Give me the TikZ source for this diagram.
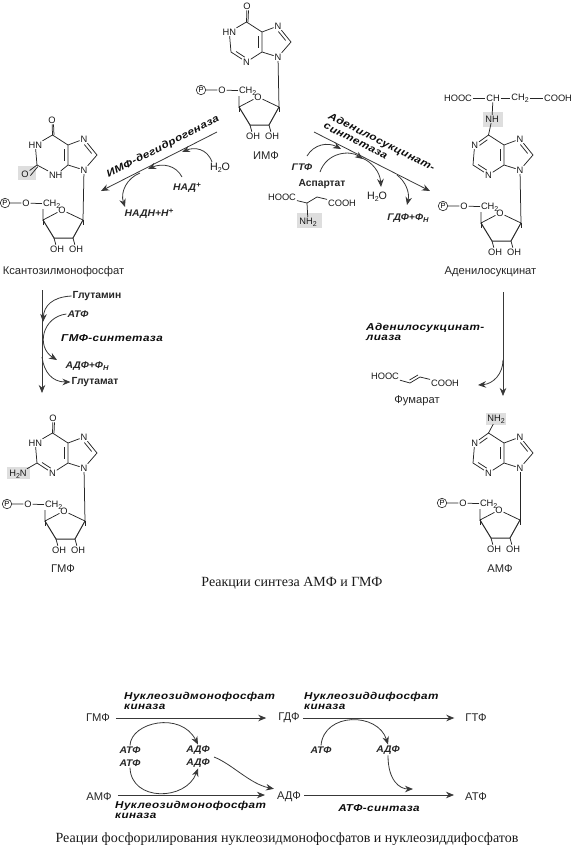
\documentclass[tikz,border=0pt]{standalone}
\usepackage{fontspec}
\setmainfont{Liberation Sans}
\newfontfamily\capfont{Liberation Serif}
\newfontfamily\enzfont[FakeStretch=1.17,LetterSpace=4]{Liberation Sans}
\newfontfamily\rgfont[FakeStretch=1.08]{Liberation Sans}
\usetikzlibrary{arrows.meta, calc}
\newcommand{\dblbond}[2]{\draw[bond] ($(#1)!.22!(#2)!3.2pt!90:(#2)$) -- ($(#2)!.22!(#1)!3.2pt!-90:(#1)$);}
\newcommand{\lowtxt}[1]{\raisebox{-1.8pt}{\fontsize{7}{7}\selectfont #1}}
\newcommand{\uptxt}[1]{\raisebox{3.2pt}{\fontsize{7.5}{7}\selectfont #1}}
\tikzset{
  bond/.style    = {draw=black!85, line width=.75pt},
  atom/.style    = {font=\fontsize{9.3}{10}\selectfont, inner sep=.8pt, text=black!90},
  phos/.style    = {circle, draw=black!85, line width=.6pt, inner sep=0pt, minimum size=9.5pt,
                    font=\fontsize{7.5}{8}\selectfont},
  metab/.style   = {font=\fontsize{11.2}{12}\selectfont, inner sep=3pt, text=black!85},
  reag/.style    = {font=\rgfont\bfseries\itshape\fontsize{9.6}{11}\selectfont,
                    inner sep=1pt, text=black!85},
  amino/.style   = {font=\bfseries\fontsize{10.3}{11}\selectfont, inner sep=1pt, text=black!85},
  enzyme/.style  = {font=\enzfont\bfseries\itshape\fontsize{10}{10}\selectfont,
                    inner sep=0pt, align=left, text=black!95},
  capt/.style    = {font=\capfont\fontsize{14}{16}\selectfont, inner sep=0pt, text=black!90},
  rxn/.style     = {-{Stealth[length=8pt,width=6.5pt]}, draw=black!78, line width=.8pt},
  hilite/.style  = {fill=black!13, draw=none},
  pics/purine/.style 2 args = {code = {
    \coordinate (c4) at (0,0);
    \coordinate (c5) at (0,-20);
    \coordinate (c6) at (-15.5,-30);
    \coordinate (c2) at (-31,0);
    \node[atom, anchor=east] (n1) at (-25,-20) {#1};
    \node[atom, anchor=west] (n3) at (-20,10) {#2};
    \node[atom] (n7) at (16,-26) {N};
    \node[atom] (n9) at (16,5) {N};
    \coordinate (c8) at (29,-10);
    \draw[bond] (c4) -- (c5) -- (c6) -- (n1) -- (c2) -- (n3) -- (c4) -- (n9) -- (c8) -- (n7) -- (c5);
    \dblbond{c4}{c5}
    \dblbond{c8}{n7}
  }},
  pics/ribose/.style = {code = {
    \coordinate (c1) at (0,0);
    \coordinate (c4) at (-40,0);
    \coordinate (c3) at (-29,18);
    \coordinate (c2) at (-10,18);
    \coordinate (c5) at (-40,-11);
    \node[atom] (o) at (-21,-10) {O};
    \node[atom] (oh3) at (-26,29) {OH};
    \node[atom] (oh2) at (-7,29) {OH};
    \node[atom, anchor=west] (ch) at (-41,-16) {CH\lowtxt{2}};
    \node[atom] (o5) at (-57,-17) {O};
    \node[phos] (p) at (-78,-17) {P};
    \draw[bond] (c1) -- (o) -- (c4) -- (c5);
    \draw[bond, line width=1pt] (c1) -- (c2) -- (c3) -- (c4);
    \draw[bond] (c1) -- ++(0,5) (c4) -- ++(0,5);
    \draw[bond] (c3) -- (oh3) (c2) -- (oh2);
    \draw[bond] (p) -- (o5) -- (ch);
  }},
}
\begin{document}
\begin{tikzpicture}[x=1pt, y=-1pt]
  \useasboundingbox (0,0) rectangle (573,849);
  \fill[hilite] (18,166) rectangle (36,180);
  \fill[hilite] (483,112) rectangle (503,127);
  \fill[hilite] (297,213) rectangle (322,228);
  \fill[hilite] (7,467) rectangle (30,479);
  \fill[hilite] (486,413) rectangle (506,425);

  \pic (imp-) at (262,52) {purine={HN}{N}};
  \pic (impr-) at (279,107) {ribose};
  \node[atom] (impo) at (247,6) {O};
  \draw[bond] (imp-c6) -- (impo);
  \draw[bond] ($(imp-c6)+(1.5,0)$) -- ($(impo.south)+(1.5,0)$);
  \dblbond{imp-c2}{imp-n3}
  \draw[bond] (imp-n9) -- (impr-c1);
  \node[metab] (impname) at (266,156) {ИМФ};

  \pic (xmp-) at (68,165) {purine={HN}{NH}};
  \pic (xmpr-) at (83,220) {ribose};
  \node[atom] (xmpo) at (52,120) {O};
  \node[atom] (xmpox) at (25,174) {O};
  \draw[bond] (xmp-c6) -- (xmpo);
  \draw[bond] ($(xmp-c6)+(1.5,0)$) -- ($(xmpo.south)+(1.5,0)$);
  \draw[bond] (xmp-c2) -- (xmpox);
  \draw[bond] ($(xmp-c2)+(.8,1.6)$) -- ($(xmpox.east)+(.8,1.6)$);
  \draw[bond] (xmp-n9) -- (xmpr-c1);
  \node[metab] (xmpname) at (63.5,272) {Ксантозилмонофосфат};

  \pic (ads-) at (504,165) {purine={N}{N}};
  \pic (adsr-) at (521,223) {ribose};
  \node[atom] (adsn) at (492,119) {NH};
  \node[atom] (adshooc) at (458,98) {HOOC};
  \node[atom] (adsch) at (493,98) {CH};
  \node[atom] (adsch2) at (520,98) {CH\lowtxt{2}};
  \node[atom] (adscooh) at (558,98) {COOH};
  \draw[bond] (adshooc) -- (adsch) -- (adsch2) -- (adscooh);
  \draw[bond] (adsch) -- (adsn);
  \draw[bond] (ads-c6) -- (adsn);
  \dblbond{ads-c2}{ads-n3}
  \dblbond{ads-c6}{ads-n1}
  \draw[bond] (ads-n9) -- (adsr-c1);
  \node[metab] (adsname) at (490.5,272) {Аденилосукцинат};

  \pic (gmp-) at (68,463) {purine={HN}{N}};
  \pic (gmpr-) at (85,521) {ribose};
  \node[atom] (gmpo) at (53,418) {O};
  \node[atom] (gmpn) at (18,474) {H\lowtxt{2}N};
  \draw[bond] (gmp-c6) -- (gmpo);
  \draw[bond] ($(gmp-c6)+(1.5,0)$) -- ($(gmpo.south)+(1.5,0)$);
  \draw[bond] (gmp-c2) -- (gmpn);
  \dblbond{gmp-c2}{gmp-n3}
  \draw[bond] (gmp-n9) -- (gmpr-c1);
  \node[metab] (gmpname) at (63,569) {ГМФ};

  \pic (amp-) at (504,463) {purine={N}{N}};
  \pic (ampr-) at (520,520) {ribose};
  \node[atom] (ampn) at (496,419) {NH\lowtxt{2}};
  \draw[bond] (amp-c6) -- (ampn);
  \dblbond{amp-c2}{amp-n3}
  \dblbond{amp-c6}{amp-n1}
  \draw[bond] (amp-n9) -- (ampr-c1);
  \node[metab] (ampname) at (500,569) {АМФ};

  \coordinate (dehtop) at (217,132);
  \coordinate (dehend) at (101,191);
  \coordinate (dehw) at (182,152);
  \coordinate (dehn) at (148,169);
  \coordinate (dehs) at (140,173);
  \coordinate (dehp) at (125,207);
  \node[enzyme, rotate=27] (dehlab) at (163,147) {ИМФ-дегидрогеназа};
  \node[atom, font=\fontsize{10.7}{11}\selectfont] (dehh2o) at (220,168) {H\lowtxt{2}O};
  \node[reag] (dehnad) at (187,188) {НАД\uptxt{+}};
  \node[reag] (dehnadh) at (149,214) {НАДН+Н\uptxt{+}};
  \draw[rxn] (dehtop) -- (dehend);
  \draw[rxn] (212,162) .. controls (207,148) and (194,147) .. (dehw);
  \draw[rxn] (182,177) .. controls (176,165) and (162,163) .. (dehn);
  \draw[rxn] (dehs) .. controls (127,178) and (120,192) .. (dehp);

  \coordinate (adstop) at (314,132);
  \coordinate (adsend) at (430,191);
  \coordinate (adsgt) at (341,149);
  \coordinate (adsas) at (363,159);
  \coordinate (adsw) at (381,187);
  \coordinate (adsgd) at (407,205);
  \node[enzyme, rotate=-27] (syn1) at (381.5,142.5) {Аденилосукцинат-};
  \node[enzyme, rotate=-27] (syn2) at (355.5,141.5) {синтетаза};
  \node[reag] (gtp) at (302,167) {ГТФ};
  \node[amino] (asp) at (322,184) {Аспартат};
  \node[atom] (asphooc) at (282,197) {HOOC};
  \node[atom] (aspcooh) at (342,203) {COOH};
  \node[atom] (aspnh) at (308,222) {NH\lowtxt{2}};
  \coordinate (aspca) at (307,203);
  \coordinate (aspcb) at (317,197);
  \draw[bond] (asphooc) -- (aspca) -- (aspcb) -- (aspcooh);
  \draw[bond] (aspca) -- (aspnh);
  \node[atom, font=\fontsize{10.7}{11}\selectfont] (aspw) at (377,197) {H\lowtxt{2}O};
  \node[reag] (gdp) at (408,218) {ГДФ+Ф\lowtxt{Н}};
  \draw[rxn] (adstop) -- (adsend);
  \draw[rxn] (307,156) .. controls (314,144) and (328,142) .. (adsgt);
  \draw[rxn] (320,172) .. controls (327,152) and (350,150) .. (adsas);
  \draw[rxn] (362,158) .. controls (372,162) and (380,172) .. (adsw);
  \draw[rxn] (397,175) .. controls (405,181) and (410,192) .. (adsgd);

  \coordinate (glntop) at (42,290);
  \coordinate (glnend) at (42,393);
  \coordinate (glnhit) at (43,322);
  \coordinate (glnatp) at (57,360);
  \coordinate (glnglu) at (42,357);
  \node[amino] (gln) at (97,296) {Глутамин};
  \node[reag] (glnat) at (78,314) {АТФ};
  \node[enzyme] (gmplab) at (112,338) {ГМФ-синтетаза};
  \node[reag] (glnad) at (87,366) {АДФ+Ф\lowtxt{Н}};
  \node[amino] (glu) at (95,382) {Глутамат};
  \draw[rxn] (glntop) -- (glnend);
  \draw[rxn] (gln.west) .. controls (52,297) and (44,306) .. (glnhit);
  \draw[rxn] (glnat.west) .. controls (42,317) and (36,347) .. (glnatp);
  \draw[rxn] (glnglu) .. controls (44,372) and (52,382) .. (glu.west);

  \coordinate (lyatop) at (503,292);
  \coordinate (lyaend) at (503,396);
  \coordinate (lyas) at (503,360);
  \node[enzyme, anchor=west] (lya1) at (366,328) {Аденилосукцинат-};
  \node[enzyme, anchor=west] (lya2) at (366,338) {лиаза};
  \node[atom] (fumh) at (385,376) {HOOC};
  \node[atom] (fumc) at (445,383) {COOH};
  \coordinate (fuma) at (410,383);
  \coordinate (fumb) at (420,377);
  \draw[bond] (fumh) -- (fuma) -- (fumb) -- (fumc);
  \draw[bond] (409.5,380) -- (418,375);
  \node[metab] (fumname) at (417,401) {Фумарат};
  \coordinate (lyaf) at (478,385);
  \draw[rxn] (lyatop) -- (lyaend);
  \draw[rxn] (lyas) .. controls (503,374) and (493,384) .. (lyaf);

  \node[capt] (cap1) at (292,583.5) {Реакции синтеза АМФ и ГМФ};

  \node[metab] (gmp2) at (98,718) {ГМФ};
  \node[metab] (gdp2) at (289,718) {ГДФ};
  \node[metab] (gtp2) at (476,718) {ГТФ};
  \node[metab] (amp2) at (99,797) {АМФ};
  \node[metab] (adp2) at (289,797) {АДФ};
  \node[metab] (atp2) at (476,797) {АТФ};
  \node[enzyme, anchor=west] (nmk1) at (124,697) {Нуклеозидмонофосфат};
  \node[enzyme, anchor=west] (nmk1b) at (124,707) {киназа};
  \node[enzyme, anchor=west] (nmk2) at (115,806) {Нуклеозидмонофосфат};
  \node[enzyme, anchor=west] (nmk2b) at (115,816) {киназа};
  \node[enzyme, anchor=west] (ndk) at (304,697) {Нуклеозиддифосфат};
  \node[enzyme, anchor=west] (ndkb) at (304,707) {киназа};
  \node[enzyme] (atps) at (379,808) {АТФ-синтаза};
  \node[reag] (at1) at (130,750) {АТФ};
  \node[reag] (at2) at (130,763) {АТФ};
  \node[reag] (ad1) at (198,750) {АДФ};
  \node[reag] (ad2) at (198,763) {АДФ};
  \node[reag] (at3) at (321,750) {АТФ};
  \node[reag] (ad3) at (388,750) {АДФ};
  \draw[rxn, shorten <=3pt, shorten >=9pt] (gmp2.east) -- (gdp2.west);
  \draw[rxn, shorten >=8pt] (gdp2.east) -- (gtp2.west);
  \draw[rxn, shorten <=3pt, shorten >=9pt] ($(amp2.east)+(0,-2)$) -- ($(adp2.west)+(0,-2)$);
  \draw[rxn, shorten >=8pt] ($(adp2.east)+(0,-2)$) -- ($(atp2.west)+(0,-2)$);
  \draw[rxn] (at1.north) .. controls (131,722) and (181,711) .. (ad1.north);
  \draw[rxn] (at2.south) .. controls (131,802) and (186,801) .. (ad2.south);
  \coordinate (adsplit) at (214,757);
  \draw[rxn] (adsplit) .. controls (232,764) and (250,784) .. (adp2.north west);
  \draw[rxn] (at3.north) .. controls (324,712) and (378,712) .. (ad3.north);
  \coordinate (adpjoin) at (413,789);
  \draw[rxn] (ad3.south) .. controls (388,781) and (400,789) .. (adpjoin);

  \node[capt] (cap2) at (287,839) {Реации фосфорилирования нуклеозидмонофосфатов и нуклеозиддифосфатов};
\end{tikzpicture}
\end{document}
